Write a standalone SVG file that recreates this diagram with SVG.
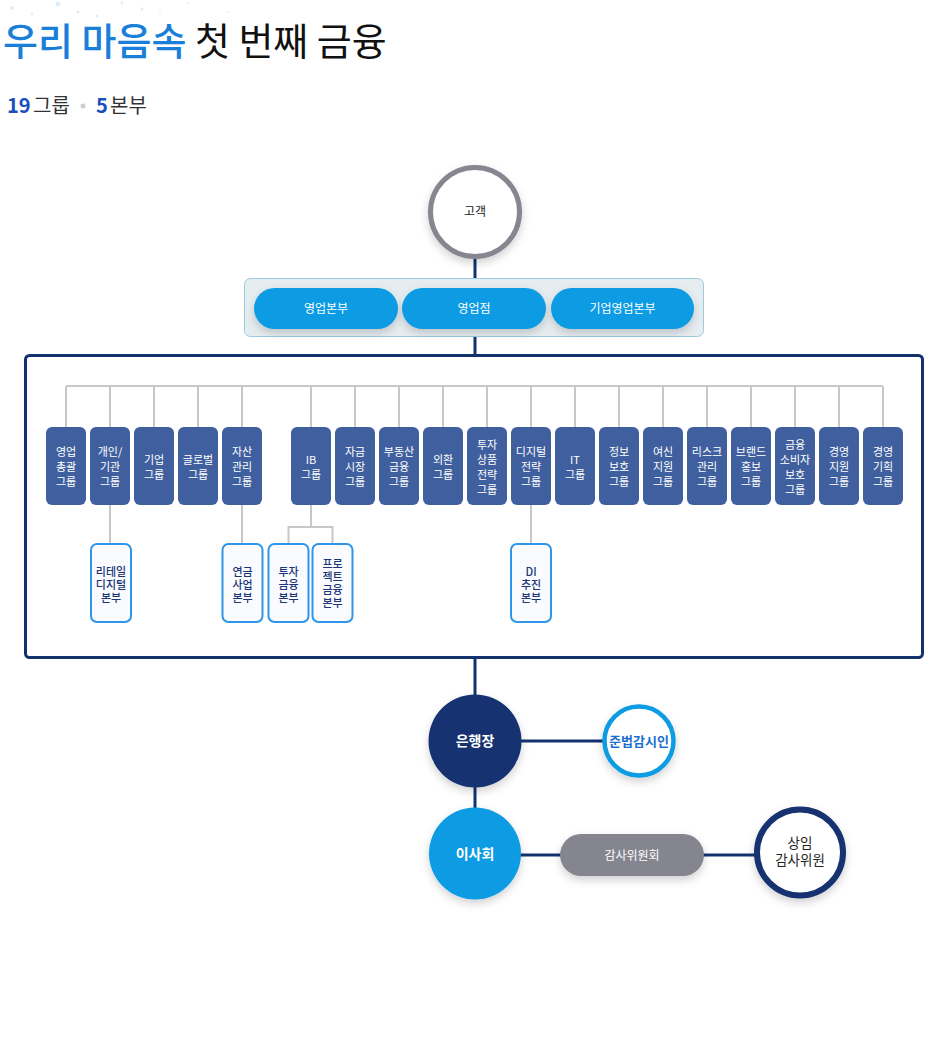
<svg xmlns="http://www.w3.org/2000/svg" width="950" height="1055" viewBox="0 0 950 1055">
<style>
text{font-family:"Noto Sans CJK KR","Noto Sans",sans-serif}
.conn{stroke:#12326e;stroke-width:3;fill:none}
.gl{stroke:#c8c8c8;stroke-width:2;fill:none}
.grp rect{fill:#405f9e}
.grp text{fill:#fff;font-size:11px;text-anchor:middle}
.sub rect{fill:#f9fbff;stroke:#2e95e8;stroke-width:2}
.sub text{fill:#1c3575;font-size:11px;text-anchor:middle;font-weight:500}
.pill rect{fill:#0a9be3}
.pill text{fill:#fff;font-size:12px;text-anchor:middle}
</style>
<defs>
<filter id="sh" x="-30%" y="-30%" width="160%" height="170%">
<feDropShadow dx="0" dy="4" stdDeviation="4" flood-color="#000" flood-opacity="0.18"/>
</filter>
</defs>
<g id="decor" fill="#cfe8f8" opacity="0.7">
<circle cx="12" cy="8" r="2"/><circle cx="32" cy="14" r="1.5"/><circle cx="58" cy="4" r="2.5"/><circle cx="78" cy="12" r="1.5"/><circle cx="97" cy="16" r="1.5"/><circle cx="122" cy="3" r="1.5"/><circle cx="142" cy="9" r="1.5"/><circle cx="160" cy="13" r="1"/><circle cx="188" cy="3" r="1"/><circle cx="228" cy="12" r="1"/>
</g>
<g id="title">
<text x="3" y="55" font-size="38" fill="#1a7fd8" font-weight="500">우리 마음속 <tspan fill="#111" font-weight="400">첫 번째 금융</tspan></text>
<text x="7" y="113" font-size="20" fill="#1b4fc0" font-weight="700">19</text>
<text x="33" y="113" font-size="20" fill="#333">그룹</text>
<circle cx="83" cy="106" r="2.5" fill="#cccccc"/>
<text x="96" y="113" font-size="20" fill="#1b4fc0" font-weight="700">5</text>
<text x="110" y="113" font-size="20" fill="#333">본부</text>
</g>
<g id="group-box">
<rect x="25.5" y="355.5" width="897" height="302" rx="4" fill="#fff" stroke="#12326e" stroke-width="3"/>
</g>
<g id="connectors">
<line class="conn" x1="475" y1="259" x2="475" y2="279"/>
<line class="conn" x1="475" y1="337" x2="475" y2="355"/>
<line class="conn" x1="475" y1="658" x2="475" y2="695"/>
<line class="conn" x1="475" y1="787" x2="475" y2="808"/>
<line class="conn" x1="520" y1="741" x2="603" y2="741"/>
<line class="conn" x1="520" y1="855" x2="561" y2="855"/>
<line class="conn" x1="703" y1="855" x2="756" y2="855"/>
<path class="gl" d="M66 386H883M66 386V427M110 386V427M154 386V427M198 386V427M242 386V427M311 386V427M355 386V427M399 386V427M443 386V427M487 386V427M531 386V427M575 386V427M619 386V427M663 386V427M707 386V427M751 386V427M795 386V427M839 386V427M883 386V427"/>
<path class="gl" d="M110 505V543M242 505V543M531 505V543M311 505V527M288.5 543V527H332.5V543"/>
</g>
<g id="customer">
<circle cx="475" cy="212" r="44.5" fill="#fff" stroke="#85868f" stroke-width="5" filter="url(#sh)"/>
<text x="475" y="216" font-size="12" fill="#222" text-anchor="middle">고객</text>
</g>
<g id="sales-panel">
<rect x="244.5" y="278.5" width="459" height="58" rx="6" fill="#e6edf1" stroke="#9ccbe0" stroke-width="1"/>
</g>
<g id="sales-hq" class="pill"><rect x="254" y="288" width="144" height="41" rx="20.5" filter="url(#sh)"/><text x="326" y="313">영업본부</text></g>
<g id="branch" class="pill"><rect x="402" y="288" width="144" height="41" rx="20.5" filter="url(#sh)"/><text x="474" y="313">영업점</text></g>
<g id="corp-sales-hq" class="pill"><rect x="551" y="288" width="143" height="41" rx="20.5" filter="url(#sh)"/><text x="622.5" y="313">기업영업본부</text></g>
<g id="g1" class="grp"><rect x="46" y="427" width="40" height="78" rx="6"/><text x="66" y="456">영업<tspan x="66" dy="15">총괄</tspan><tspan x="66" dy="15">그룹</tspan></text></g>
<g id="g2" class="grp"><rect x="90" y="427" width="40" height="78" rx="6"/><text x="110" y="456">개인/<tspan x="110" dy="15">기관</tspan><tspan x="110" dy="15">그룹</tspan></text></g>
<g id="g3" class="grp"><rect x="134" y="427" width="40" height="78" rx="6"/><text x="154" y="463.5">기업<tspan x="154" dy="15">그룹</tspan></text></g>
<g id="g4" class="grp"><rect x="178" y="427" width="40" height="78" rx="6"/><text x="198" y="463.5">글로벌<tspan x="198" dy="15">그룹</tspan></text></g>
<g id="g5" class="grp"><rect x="222" y="427" width="40" height="78" rx="6"/><text x="242" y="456">자산<tspan x="242" dy="15">관리</tspan><tspan x="242" dy="15">그룹</tspan></text></g>
<g id="g6" class="grp"><rect x="291" y="427" width="40" height="78" rx="6"/><text x="311" y="463.5">IB<tspan x="311" dy="15">그룹</tspan></text></g>
<g id="g7" class="grp"><rect x="335" y="427" width="40" height="78" rx="6"/><text x="355" y="456">자금<tspan x="355" dy="15">시장</tspan><tspan x="355" dy="15">그룹</tspan></text></g>
<g id="g8" class="grp"><rect x="379" y="427" width="40" height="78" rx="6"/><text x="399" y="456">부동산<tspan x="399" dy="15">금융</tspan><tspan x="399" dy="15">그룹</tspan></text></g>
<g id="g9" class="grp"><rect x="423" y="427" width="40" height="78" rx="6"/><text x="443" y="463.5">외환<tspan x="443" dy="15">그룹</tspan></text></g>
<g id="g10" class="grp"><rect x="467" y="427" width="40" height="78" rx="6"/><text x="487" y="448.5">투자<tspan x="487" dy="15">상품</tspan><tspan x="487" dy="15">전략</tspan><tspan x="487" dy="15">그룹</tspan></text></g>
<g id="g11" class="grp"><rect x="511" y="427" width="40" height="78" rx="6"/><text x="531" y="456">디지털<tspan x="531" dy="15">전략</tspan><tspan x="531" dy="15">그룹</tspan></text></g>
<g id="g12" class="grp"><rect x="555" y="427" width="40" height="78" rx="6"/><text x="575" y="463.5">IT<tspan x="575" dy="15">그룹</tspan></text></g>
<g id="g13" class="grp"><rect x="599" y="427" width="40" height="78" rx="6"/><text x="619" y="456">정보<tspan x="619" dy="15">보호</tspan><tspan x="619" dy="15">그룹</tspan></text></g>
<g id="g14" class="grp"><rect x="643" y="427" width="40" height="78" rx="6"/><text x="663" y="456">여신<tspan x="663" dy="15">지원</tspan><tspan x="663" dy="15">그룹</tspan></text></g>
<g id="g15" class="grp"><rect x="687" y="427" width="40" height="78" rx="6"/><text x="707" y="456">리스크<tspan x="707" dy="15">관리</tspan><tspan x="707" dy="15">그룹</tspan></text></g>
<g id="g16" class="grp"><rect x="731" y="427" width="40" height="78" rx="6"/><text x="751" y="456">브랜드<tspan x="751" dy="15">홍보</tspan><tspan x="751" dy="15">그룹</tspan></text></g>
<g id="g17" class="grp"><rect x="775" y="427" width="40" height="78" rx="6"/><text x="795" y="448.5">금융<tspan x="795" dy="15">소비자</tspan><tspan x="795" dy="15">보호</tspan><tspan x="795" dy="15">그룹</tspan></text></g>
<g id="g18" class="grp"><rect x="819" y="427" width="40" height="78" rx="6"/><text x="839" y="456">경영<tspan x="839" dy="15">지원</tspan><tspan x="839" dy="15">그룹</tspan></text></g>
<g id="g19" class="grp"><rect x="863" y="427" width="40" height="78" rx="6"/><text x="883" y="456">경영<tspan x="883" dy="15">기획</tspan><tspan x="883" dy="15">그룹</tspan></text></g>
<g id="s1" class="sub"><rect x="91" y="544" width="40" height="78" rx="6"/><text x="111" y="575.5">리테일<tspan x="111" dy="13">디지털</tspan><tspan x="111" dy="13">본부</tspan></text></g>
<g id="s2" class="sub"><rect x="222.5" y="544" width="40" height="78" rx="6"/><text x="242.5" y="575.5">연금<tspan x="242.5" dy="13">사업</tspan><tspan x="242.5" dy="13">본부</tspan></text></g>
<g id="s3" class="sub"><rect x="268.5" y="544" width="40" height="78" rx="6"/><text x="288.5" y="575.5">투자<tspan x="288.5" dy="13">금융</tspan><tspan x="288.5" dy="13">본부</tspan></text></g>
<g id="s4" class="sub"><rect x="312.5" y="544" width="40" height="78" rx="6"/><text x="332.5" y="568">프로<tspan x="332.5" dy="13">젝트</tspan><tspan x="332.5" dy="13">금융</tspan><tspan x="332.5" dy="13">본부</tspan></text></g>
<g id="s5" class="sub"><rect x="511" y="544" width="40" height="78" rx="6"/><text x="531" y="575.5">DI<tspan x="531" dy="13">추진</tspan><tspan x="531" dy="13">본부</tspan></text></g>
<g id="ceo">
<circle cx="475" cy="741" r="46.5" fill="#13306f" filter="url(#sh)"/>
<text x="475" y="746" font-size="14" font-weight="700" fill="#fff" text-anchor="middle">은행장</text>
</g>
<g id="compliance">
<circle cx="639" cy="741" r="34.5" fill="#fff" stroke="#0a9be3" stroke-width="4.5" filter="url(#sh)"/>
<text x="639" y="746" font-size="13" font-weight="700" fill="#1a6fd0" text-anchor="middle">준법감시인</text>
</g>
<g id="board">
<circle cx="475" cy="853.5" r="46" fill="#0a9be3" filter="url(#sh)"/>
<text x="475" y="858.5" font-size="14" font-weight="700" fill="#fff" text-anchor="middle">이사회</text>
</g>
<g id="audit-committee">
<rect x="560" y="834" width="144" height="42" rx="21" fill="#858590" filter="url(#sh)"/>
<text x="632" y="859.5" font-size="12" fill="#fff" text-anchor="middle">감사위원회</text>
</g>
<g id="standing-auditor">
<circle cx="800" cy="852.5" r="43" fill="#fff" stroke="#13306f" stroke-width="6" filter="url(#sh)"/>
<text x="800" y="848" font-size="13.5" fill="#222" text-anchor="middle">상임<tspan x="800" dy="17">감사위원</tspan></text>
</g>
</svg>
